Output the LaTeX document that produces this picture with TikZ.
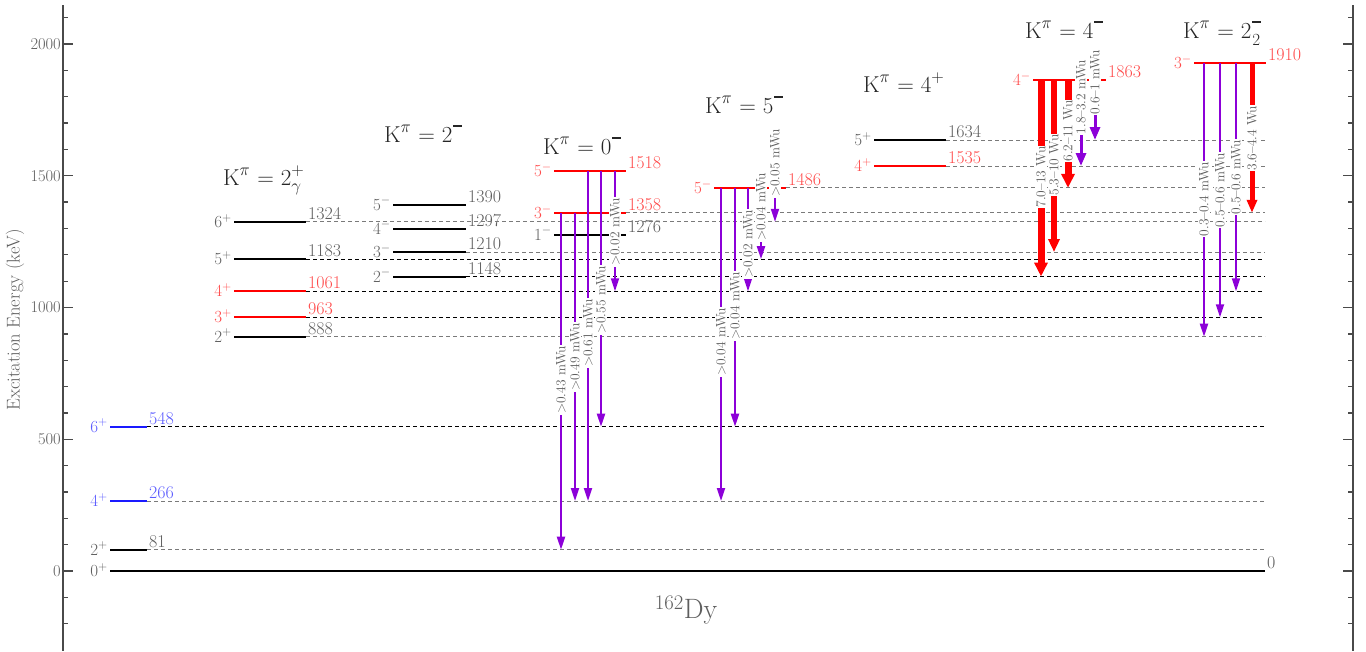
\documentclass[tikz,border=0pt]{standalone}
\usetikzlibrary{arrows.meta}
\definecolor{lvred}{HTML}{FF0000}
\definecolor{txred}{HTML}{FF4A4A}
\definecolor{lvblue}{HTML}{1A1AFF}
\definecolor{txblue}{HTML}{5A5AFF}
\definecolor{purp}{HTML}{8C00D8}
\definecolor{txgray}{HTML}{5E5E5E}
\definecolor{axgray}{HTML}{4A4A4A}
\definecolor{dshgray}{HTML}{7A7A7A}
\newcommand\dsh{\textcolor{black}{\textendash}}
\newcommand\tmin{\kern1pt\rule[15pt]{9pt}{2.3pt}}
% level: name, x1, x2, y, line colour, text colour, spin, energy
\newcommand\lvl[8]{%
  \coordinate (#1L) at (#2,#4);
  \coordinate (#1R) at (#3,#4);
  \draw[lvline,draw=#5] (#1L) -- (#1R);
  \node[spinlbl,text=#6] (#1s) at ([xshift=-2pt,yshift=-5.5pt]#1L) {#7};
  \node[enlbl,text=#6] (#1e) at ([xshift=2pt,yshift=2.5pt]#1R) {#8};}
% transition: name, style, x, y from, y to, label y, label
\newcommand\trn[7]{%
  \coordinate (#1a) at (#3,#4);
  \coordinate (#1b) at (#3,#5);
  \draw[#2] (#1a) -- (#1b);
  \node[tlbl] (#1t) at (#3,#6) {#7};}
\tikzset{
  axis/.style={draw=axgray,line width=1.3pt},
  lvline/.style={line width=2pt},
  spinlbl/.style={anchor=base east,inner sep=0pt,font=\fontsize{17}{17}\selectfont},
  enlbl/.style={anchor=base west,inner sep=0pt,font=\fontsize{18}{18}\selectfont},
  ticklbl/.style={anchor=east,inner sep=0pt,text=txgray,font=\fontsize{16.5}{16.5}\selectfont},
  ttl/.style={anchor=base west,inner sep=0pt,text=black!85,font=\fontsize{23}{23}\selectfont},
  tlbl/.style={rotate=90,fill=white,inner sep=1pt,text=txgray,font=\fontsize{13.5}{13.5}\selectfont},
  dg/.style={draw=dshgray,line width=1pt,dash pattern=on 4pt off 3pt},
  db/.style={draw=black,line width=0.8pt,dash pattern=on 3.5pt off 3.5pt},
  parr/.style={draw=purp,line width=2pt,-{Triangle[length=13pt,width=8pt]}},
  parrT/.style={draw=purp,line width=3pt,-{Triangle[length=13pt,width=10pt]}},
  rarrA/.style={draw=lvred,line width=7pt,-{Triangle[length=14pt,width=13pt]}},
  rarrB/.style={draw=lvred,line width=5.5pt,-{Triangle[length=13pt,width=11pt]}},
  rarrC/.style={draw=lvred,line width=5pt,-{Triangle[length=13pt,width=10pt]}},
}
\begin{document}
\begin{tikzpicture}[x=1pt,y=-1pt]
\useasboundingbox (0,0) rectangle (1366,651);
% axes
\draw[axis] (63,5) -- (63,651);
\draw[axis] (1353,5) -- (1353,651);
\foreach \e in {-200,-100,...,2100}{%
  \pgfmathsetmacro\yy{571-0.2635*\e}
  \draw[axis] (63,\yy) -- (68,\yy);
  \draw[axis] (1353,\yy) -- (1348,\yy);}
\foreach \e in {0,500,...,2000}{%
  \pgfmathsetmacro\yy{571-0.2635*\e}
  \draw[axis] (63,\yy) -- (73,\yy);
  \draw[axis] (1353,\yy) -- (1343,\yy);
  \node[ticklbl] (tk\e) at (61,\yy) {\e};}
\node[rotate=90,text=txgray,font=\fontsize{18.5}{18.5}\selectfont] (ytitle) at (15,320) {Excitation Energy (keV)};
\coordinate (xend) at (1265,0);
% levels
\lvl{g0}{110}{1265}{571}{black}{txgray}{0$^{+}$}{0}
\lvl{g81}{110}{147}{549.7}{black}{txgray}{2$^{+}$}{81}
\lvl{g266}{110}{147}{501}{lvblue}{txblue}{4$^{+}$}{266}
\lvl{g548}{110}{147}{426.7}{lvblue}{txblue}{6$^{+}$}{548}
\lvl{a888}{234}{306}{336.7}{black}{txgray}{2$^{+}$}{888}
\lvl{a963}{234}{306}{317.3}{lvred}{txred}{3$^{+}$}{963}
\lvl{a1061}{234}{306}{291.3}{lvred}{txred}{4$^{+}$}{1061}
\lvl{a1183}{234}{306}{259.2}{black}{txgray}{5$^{+}$}{1183}
\lvl{a1324}{234}{306}{221.8}{black}{txgray}{6$^{+}$}{1324}
\lvl{b1148}{393}{466}{276.5}{black}{txgray}{2$^{-}$}{1148}
\lvl{b1210}{393}{466}{252}{black}{txgray}{3$^{-}$}{1210}
\lvl{b1297}{393}{466}{228.5}{black}{txgray}{4$^{-}$}{1297}
\lvl{b1390}{393}{466}{204.5}{black}{txgray}{5$^{-}$}{1390}
\lvl{c1276}{554}{626}{234.5}{black}{txgray}{1$^{-}$}{1276}
\lvl{c1358}{554}{626}{212.8}{lvred}{txred}{3$^{-}$}{1358}
\lvl{c1518}{554}{626}{171}{lvred}{txred}{5$^{-}$}{1518}
\lvl{d1486}{714}{786}{187.8}{lvred}{txred}{5$^{-}$}{1486}
\lvl{e1535}{874}{946}{166}{lvred}{txred}{4$^{+}$}{1535}
\lvl{e1634}{874}{946}{140}{black}{txgray}{5$^{+}$}{1634}
\lvl{f1863}{1033}{1106}{80}{lvred}{txred}{4$^{-}$}{1863}
\lvl{h1910}{1194}{1266}{63}{lvred}{txred}{3$^{-}$}{1910}
% dashed continuation lines
\draw[dg] (g81R) -- (g81R -| xend);
\draw[dg] (g266R) -- (g266R -| xend);
\draw[db] (g548R) -- (g548R -| xend);
\draw[dg] (a888R) -- (a888R -| xend);
\draw[db] (a963R) -- (a963R -| xend);
\draw[db] (a1061R) -- (a1061R -| xend);
\draw[db] (a1183R) -- (a1183R -| xend);
\draw[dg] (a1324R) -- (a1324R -| xend);
\draw[db] (b1148R) -- (b1148R -| xend);
\draw[dg] (b1210R) -- (b1210R -| xend);
\draw[dg] (c1358R) -- (c1358R -| xend);
\draw[dg] (d1486R) -- (d1486R -| xend);
\draw[dg] (e1535R) -- (e1535R -| xend);
\draw[dg] (e1634R) -- (e1634R -| xend);
% band titles
\node[ttl] (t1) at (223,185) {K$^{\pi}$ = 2$^{+}_{\gamma}$};
\node[ttl] (t2) at (384,142) {K$^{\pi}$ = 2\tmin};
\node[ttl] (t3) at (543,154) {K$^{\pi}$ = 0\tmin};
\node[ttl] (t4) at (705,113) {K$^{\pi}$ = 5\tmin};
\node[ttl] (t5) at (863,92) {K$^{\pi}$ = 4$^{+}$};
\node[ttl] (t6) at (1025,38) {K$^{\pi}$ = 4\tmin};
\node[ttl] (t7) at (1183,38) {K$^{\pi}$ = 2\rlap{\tmin}\kern1pt\raisebox{-7pt}{\fontsize{17}{17}\selectfont 2}};
% transitions K=0-
\trn{p1}{parr}{561}{212.8}{549.7}{380}{\textgreater0.43 mWu}
\trn{p2}{parr}{575}{212.8}{501}{357}{\textgreater0.49 mWu}
\trn{p3}{parr}{588}{171}{501}{333}{\textgreater0.61 mWu}
\trn{p4}{parr}{601}{171}{426.7}{300}{\textgreater0.55 mWu}
\trn{p5}{parr}{615}{171}{291.3}{232}{\textgreater0.02 mWu}
% K=5-
\trn{q1}{parr}{721}{187.8}{501}{342}{\textgreater0.04 mWu}
\trn{q2}{parr}{735}{187.8}{426.7}{306}{\textgreater0.04 mWu}
\trn{q3}{parr}{748}{187.8}{291.3}{244}{\textgreater0.02 mWu}
\trn{q4}{parr}{761}{187.8}{259.2}{207}{\textgreater0.04 mWu}
\trn{q5}{parr}{775}{187.8}{221.8}{163}{\textgreater0.05 mWu}
% K=4-
\trn{r1}{rarrA}{1041}{80}{276.5}{177}{7.0\dsh13 Wu}
\trn{r2}{rarrB}{1054}{80}{252}{165}{5.3\dsh10 Wu}
\trn{r3}{rarrA}{1068}{80}{187.8}{131}{6.2\dsh11 Wu}
\trn{r4}{parrT}{1081}{80}{166}{97}{1.8\dsh3.2 mWu}
\trn{r5}{parrT}{1095}{80}{140}{82}{0.6\dsh1 mWu}
% K=2-_2
\trn{s1}{parr}{1204}{63}{336.7}{199}{0.3\dsh0.4 mWu}
\trn{s2}{parr}{1220}{63}{317.3}{190}{0.5\dsh0.6 mWu}
\trn{s3}{parr}{1236}{63}{291.3}{177}{0.5\dsh0.6 mWu}
\trn{s4}{rarrC}{1252}{63}{212.8}{138}{3.6\dsh4.4 Wu}
% nucleus
\node[text=txgray,font=\fontsize{28}{28}\selectfont] (nuc) at (686,610) {$^{162}$Dy};
\end{tikzpicture}
\end{document}
